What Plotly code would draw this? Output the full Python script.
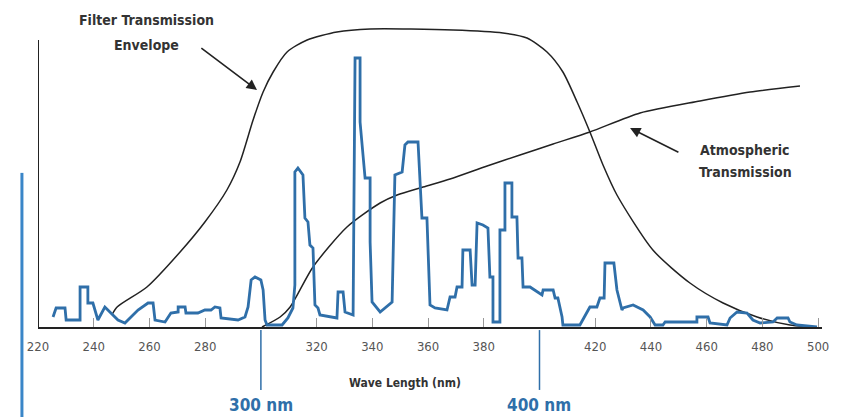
import plotly.graph_objects as go

# ---- data (wavelength in nm, relative intensity units) ----
spec_nm = [225.4, 226.5, 229.7, 230.1, 235.1, 235.1, 237.9, 237.9, 239.7, 241.5, 244.0, 248.7, 251.2,
           255.9, 259.5, 261.3, 262.0, 265.6, 267.7, 270.3, 270.3, 272.8, 273.1, 277.4, 279.9, 282.1,
           283.5, 285.3, 285.7, 291.8, 294.3, 295.4, 296.5, 297.9, 300.0, 300.8, 301.5, 302.2, 307.6,
           309.7, 311.5, 312.2, 312.2, 313.3, 315.1, 315.8, 316.9, 317.6, 318.7, 319.4, 320.5, 321.2,
           327.3, 327.7, 329.5, 330.2, 333.1, 333.8, 335.6, 335.6, 337.4, 339.2, 339.2, 339.9, 342.8,
           347.1, 348.1, 350.7, 351.7, 352.8, 356.4, 357.1, 357.8, 359.6, 360.0, 360.7, 362.5, 366.8,
           367.9, 369.7, 370.4, 372.2, 372.5, 375.1, 375.8, 376.9, 377.6, 379.7, 381.5, 382.2, 383.3,
           383.3, 385.8, 385.8, 387.6, 387.6, 390.1, 390.1, 391.9, 392.3, 393.7, 394.1, 396.6, 400.9,
           401.3, 404.9, 405.6, 406.6, 408.1, 408.4, 414.5, 418.1, 420.6, 421.7, 423.2, 423.5, 426.7,
           427.8, 429.6, 430.0, 433.6, 437.2, 439.7, 441.5, 444.3, 445.1, 456.5, 456.5, 460.5, 461.2,
           467.3, 468.4, 470.9, 474.5, 476.6, 479.2, 483.8, 485.3, 489.2, 489.9, 492.4, 499.6]
spec_val = [10, 19, 19, 7, 7, 40, 40, 24, 24, 7, 20, 7, 4,
            17, 24, 24, 7, 5, 14, 15, 20, 20, 14, 14, 17, 17,
            20, 19, 9, 7, 10, 20, 47, 50, 47, 37, 7, 2, 2,
            9, 19, 42, 155, 159, 152, 109, 105, 82, 79, 22, 19, 12,
            9, 35, 35, 15, 12, 269, 269, 205, 149, 149, 85, 25, 15,
            25, 152, 155, 182, 185, 185, 149, 109, 109, 69, 22, 19, 17,
            30, 30, 40, 40, 77, 77, 42, 42, 104, 102, 99, 50, 50,
            5, 5, 97, 97, 144, 144, 110, 110, 69, 69, 40, 40, 32,
            37, 37, 29, 29, 10, 2, 2, 20, 20, 29, 29, 64, 64,
            37, 17, 19, 22, 17, 10, 2, 2, 5, 5, 10, 10, 4,
            2, 9, 15, 14, 7, 4, 5, 9, 9, 5, 2, 0]

filter_nm = [246.5, 248.4, 259.1, 271.0, 279.9, 287.8, 292.5, 297.2, 300.8, 304.4, 309.4, 316.6, 327.3,
             339.2, 369.0, 386.9, 395.5, 402.7, 408.4, 413.5, 418.1, 422.8, 427.8, 440.7, 454.0, 465.9,
             478.1, 489.9, 499.6]
filter_val = [12, 20, 40, 75, 105, 137, 165, 207, 235, 255, 275, 287, 295,
              298, 297, 294, 289, 275, 255, 225, 195, 162, 132, 77, 44, 24,
              10, 2, 0]

atmos_nm = [300.4, 306.9, 310.5, 318.7, 330.9, 342.8, 348.9, 358.2, 367.9, 381.2, 393.0, 404.9, 418.1,
            436.1, 457.6, 475.6, 493.5]
atmos_val = [0, 10, 20, 60, 100, 124, 132, 140, 148, 161, 172, 183, 195,
             214, 226, 235, 241]

tick_vals = [220, 240, 260, 280, 320, 340, 360, 380, 420, 440, 460, 480, 500]
tick_text = [str(v) for v in tick_vals]
marker_nm = [300, 400]
marker_text = ["<b>300 nm</b>", "<b>400 nm</b>"]

BLUE = "#2f6fa9"
DARK = "#222222"
NARROW = "Liberation Sans Narrow, DejaVu Sans Condensed, Arial Narrow, sans-serif"

fig = go.Figure()
fig.add_trace(go.Scatter(x=filter_nm, y=filter_val, mode="lines",
                         line=dict(color=DARK, width=1.5, shape="spline", smoothing=0.7),
                         hoverinfo="skip", showlegend=False))
fig.add_trace(go.Scatter(x=atmos_nm, y=atmos_val, mode="lines",
                         line=dict(color=DARK, width=1.5, shape="spline", smoothing=0.7),
                         hoverinfo="skip", showlegend=False))
fig.add_trace(go.Scatter(x=spec_nm, y=spec_val, mode="lines",
                         line=dict(color=BLUE, width=2.8),
                         hoverinfo="skip", showlegend=False))

# left vertical axis line (partial) and decorative blue bar
fig.add_shape(type="line", xref="x", yref="y", x0=220, x1=220, y0=0, y1=287,
              line=dict(color=DARK, width=2), layer="above")
fig.add_shape(type="line", xref="paper", yref="paper", x0=-0.0205, x1=-0.0205, y0=0.502, y1=-0.30,
              line=dict(color="#3a86c8", width=3))

# marker lines below axis for 300/400 nm
for nm, txt in zip(marker_nm, marker_text):
    fig.add_shape(type="line", xref="x", yref="paper", x0=nm, x1=nm, y0=-0.01, y1=-0.205,
                  line=dict(color=BLUE, width=1.5))
    fig.add_annotation(x=nm, xref="x", y=-0.255, yref="paper", text=txt, showarrow=False,
                       font=dict(family=NARROW, size=17, color=BLUE), xanchor="center", yanchor="middle")

fig.add_annotation(x=351.7, xref="x", y=-0.182, yref="paper", text="<b>Wave Length (nm)</b>", showarrow=False,
                   font=dict(family=NARROW, size=12, color="#333333"), xanchor="center", yanchor="middle")

# text labels
LBL = dict(family=NARROW, size=14, color="#333333")
fig.add_annotation(x=259.1, y=307, xref="x", yref="y", text="<b>Filter Transmission</b>", showarrow=False,
                   font=LBL, xanchor="center", yanchor="middle")
fig.add_annotation(x=259.1, y=282, xref="x", yref="y", text="<b>Envelope</b>", showarrow=False,
                   font=LBL, xanchor="center", yanchor="middle")
fig.add_annotation(x=473.8, y=177, xref="x", yref="y", text="<b>Atmospheric</b>", showarrow=False,
                   font=LBL, xanchor="center", yanchor="middle")
fig.add_annotation(x=473.8, y=155, xref="x", yref="y", text="<b>Transmission</b>", showarrow=False,
                   font=LBL, xanchor="center", yanchor="middle")

# arrows
fig.add_annotation(x=298.6, y=237, ax=278.1, ay=280, xref="x", yref="y", axref="x", ayref="y",
                   text="", showarrow=True, arrowhead=2, arrowsize=1.3, arrowwidth=1.6, arrowcolor=DARK)
fig.add_annotation(x=432.5, y=199, ax=450.4, ay=174, xref="x", yref="y", axref="x", ayref="y",
                   text="", showarrow=True, arrowhead=2, arrowsize=1.3, arrowwidth=1.6, arrowcolor=DARK)

fig.update_layout(
    width=846, height=417,
    margin=dict(l=38, r=24, t=20, b=90),
    paper_bgcolor="white", plot_bgcolor="white",
    xaxis=dict(range=[220, 501.4], tickvals=tick_vals, ticktext=tick_text,
               ticks="inside", ticklen=9, tickcolor="#999999", tickwidth=1,
               showgrid=False, zeroline=False, showline=True, linecolor=DARK, linewidth=2,
               tickfont=dict(family=NARROW, size=13, color="#555555"), ticklabelstandoff=6),
    yaxis=dict(range=[0, 307], visible=False, showgrid=False, zeroline=False),
)

fig.write_html("out.html")
